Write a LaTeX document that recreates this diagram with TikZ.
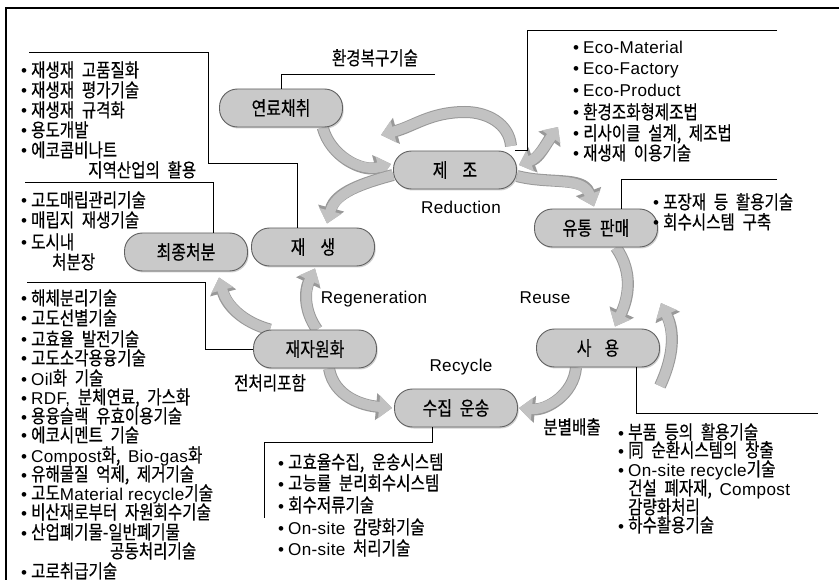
\documentclass[tikz,border=0pt]{standalone}
\usepackage{fontspec}
\setmainfont[WordSpace=2.2,FakeStretch=0.82,FakeBold=0.4]{Noto Sans CJK KR}
\newfontfamily\latf[Scale=0.9,LetterSpace=2]{Liberation Sans}
\usetikzlibrary{arrows.meta,shadows}
\newcommand\lt[1]{{\latf #1}}
\newcommand\bu{\makebox[14pt][c]{\latf •}}
\pgfdeclarelayer{bg}
\pgfsetlayers{bg,main}
\begin{document}
\begin{tikzpicture}[x=1pt,y=-1pt,
  pill/.style={rectangle, rounded corners=18pt, draw=gray!75!black, line width=0.9pt,
    fill=gray!42, minimum width=123pt, minimum height=38pt, inner sep=0pt,
    font=\fontsize{19.5}{21}\selectfont,
    drop shadow={shadow xshift=1.2pt,shadow yshift=-1.5pt,fill=gray!75}},
  item/.style={inner sep=0pt, anchor=west, font=\fontsize{19}{21}\selectfont,
    text height=15pt, text depth=1pt},
  lab/.style={inner sep=0pt, font=\fontsize{19}{21}\selectfont,
    text height=15pt, text depth=1pt},
  ln/.style={draw=black, line width=0.9pt},
  frame/.style={draw=black, line width=1.8pt},
  barrow/.style={draw=gray!48, line width=10pt, -{Triangle[width=22pt,length=13pt]},
    preaction={draw=gray!80, line width=12pt, -{Triangle[width=26pt,length=16pt]}}},
  barrowtwo/.style={draw=gray!48, line width=10pt, {Triangle[width=22pt,length=12pt]}-{Triangle[width=22pt,length=12pt]},
    preaction={draw=gray!80, line width=12pt, {Triangle[width=26pt,length=15pt]}-{Triangle[width=26pt,length=15pt]}}}
]
\useasboundingbox (0,0) rectangle (839,580);
% frame
\draw[frame] (6,580) -- (6,8) -- (839,8);

% pills
\node[pill] (yr) at (281,108) {연료채취};
\node[pill] (jj) at (455,170) {제\hspace{15pt}조};
\node[pill] (yt) at (596,228) {유통 판매};
\node[pill] (sy) at (598,348) {사\hspace{13pt}용};
\node[pill] (sj) at (456,408) {수집 운송};
\node[pill] (jw) at (315,349) {재자원화};
\node[pill] (jg) at (313,247) {재\hspace{15pt}생};
\node[pill] (cj) at (186,252) {최종처분};

% free labels
\node[lab] (env) at (375,58) {환경복구기술};
\node[lab] (pre) at (270,383) {전처리포함};
\node[lab] (sep) at (572,427) {분별배출};
\node[lab] (red) at (461,207) {\lt{Reduction}};
\node[lab] (reg) at (374,297) {\lt{Regeneration}};
\node[lab] (reu) at (545,297) {\lt{Reuse}};
\node[lab] (rec) at (461,365) {\lt{Recycle}};

% top-left list
\node[item] (tl1) at (17,70) {\bu 재생재 고품질화};
\node[item] (tl2) at (17,90) {\bu 재생재 평가기술};
\node[item] (tl3) at (17,110) {\bu 재생재 규격화};
\node[item] (tl4) at (17,130) {\bu 용도개발};
\node[item] (tl5) at (17,150) {\bu 에코콤비나트};
\node[item] (tl6) at (88,170) {지역산업의 활용};

% second left list
\node[item] (lb1) at (17,200) {\bu 고도매립관리기술};
\node[item] (lb2) at (17,220) {\bu 매립지 재생기술};
\node[item] (lb3) at (17,242) {\bu 도시내};
\node[item] (lb4) at (52,262) {처분장};

% third left list
\node[item] (lc1) at (17,298) {\bu 해체분리기술};
\node[item] (lc2) at (17,318) {\bu 고도선별기술};
\node[item] (lc3) at (17,339) {\bu 고효율 발전기술};
\node[item] (lc4) at (17,358) {\bu 고도소각용융기술};
\node[item] (lc5) at (17,378) {\bu \lt{Oil}화 기술};
\node[item] (lc6) at (17,397) {\bu \lt{RDF,} 분체연료, 가스화};
\node[item] (lc7) at (17,416) {\bu 용융슬랙 유효이용기술};
\node[item] (lc8) at (17,435) {\bu 에코시멘트 기술};
\node[item] (lc9) at (17,455) {\bu \lt{Compost}화, \lt{Bio-gas}화};
\node[item] (lc10) at (17,474) {\bu 유해물질 억제, 제거기술};
\node[item] (lc11) at (17,493) {\bu 고도\lt{Material recycle}기술};
\node[item] (lc12) at (17,512) {\bu 비산재로부터 자원회수기술};
\node[item] (lc13) at (17,532) {\bu 산업폐기물-일반폐기물};
\node[item] (lc14) at (110,551) {공동처리기술};
\node[item] (lc15) at (17,571) {\bu 고로취급기술};

% top-right list
\node[item] (tr1) at (569,47) {\bu \lt{Eco-Material}};
\node[item] (tr2) at (569,68) {\bu \lt{Eco-Factory}};
\node[item] (tr3) at (569,90) {\bu \lt{Eco-Product}};
\node[item] (tr4) at (569,112) {\bu 환경조화형제조법};
\node[item] (tr5) at (569,133) {\bu 리사이클 설계, 제조법};
\node[item] (tr6) at (569,153) {\bu 재생재 이용기술};

% right-middle list
\node[item] (rm1) at (649,202) {\bu 포장재 등 활용기술};
\node[item] (rm2) at (649,222) {\bu 회수시스템 구축};

% bottom-middle list
\node[item] (bm1) at (274,462) {\bu 고효율수집, 운송시스템};
\node[item] (bm2) at (274,483) {\bu 고능률 분리회수시스템};
\node[item] (bm3) at (274,505) {\bu 회수저류기술};
\node[item] (bm4) at (274,527) {\bu \lt{On-site} 감량화기술};
\node[item] (bm5) at (274,548) {\bu \lt{On-site} 처리기술};

% bottom-right list
\node[item] (br1) at (614,432) {\bu 부품 등의 활용기술};
\node[item] (br2) at (614,450) {\bu 同 순환시스템의 창출};
\node[item] (br3) at (614,469) {\bu \lt{On-site recycle}기술};
\node[item] (br4) at (628,488) {건설 폐자재, \lt{Compost}};
\node[item] (br5) at (628,507) {감량화처리};
\node[item] (br6) at (614,525) {\bu 하수활용기술};

% bracket lines
\coordinate (envc) at (435,74);
\draw[ln] (envc) -| (yr.north);
\coordinate (jjc) at (777,30);
\coordinate (jjk) at (527,30);
\draw[ln] (jjc) -- (jjk) |- ([xshift=-2pt]jj.north east);
\coordinate (tlc) at (29,52);
\coordinate (tlk) at (208,163);
\draw[ln] (tlc) -| (tlk) -| ([xshift=-16pt]jg.north);
\coordinate (lbc) at (25,182);
\draw[ln] (lbc) -| ([xshift=27pt]cj.north);
\coordinate (lcc) at (27,282);
\draw[ln] (lcc) -| ([xshift=-48pt]jw.west) -- (jw.west);
\coordinate (bmk) at (264,442);
\coordinate (bme) at (264,518);
\draw[ln] ([xshift=-24pt]sj.south) |- (bmk) -- (bme);
\coordinate (brc) at (818,413);
\draw[ln] ([xshift=38pt]sy.south) |- (brc);
\coordinate (rmc) at (777,179);
\draw[ln] (rmc) -| ([xshift=25pt]yt.north);

% block arrows
\coordinate (a2t) at (511,146);
\coordinate (a2p) at (465,112);
\coordinate (a2h) at (381,135);
\coordinate (a4h) at (558,127);
\coordinate (a7t) at (660,386);
\coordinate (a7h) at (661,303);
\begin{pgfonlayer}{bg}
\draw[barrow] (yr.-25) to[out=-75,in=195] ([yshift=6pt,xshift=-2pt]jj.west);
\draw[barrow] (a2t) to[out=95,in=0] (a2p) to[out=180,in=15] (a2h);
\draw[barrow] ([yshift=-5pt]jj.west) to[out=195,in=75] ([xshift=14pt,yshift=4pt]jg.north);
\draw[barrowtwo] ([yshift=5pt,xshift=2pt]jj.east) to[out=20,in=235] (a4h);
\draw[barrow] ([yshift=-6pt]jj.east) to[out=-15,in=110] ([xshift=-2pt,yshift=2pt]yt.north);
\draw[barrow] ([xshift=20pt]yt.south) to[out=-55,in=65] ([xshift=17pt,yshift=2pt]sy.north);
\draw[barrow] (a7t) to[out=65,in=-65] (a7h);
\draw[barrow] ([xshift=-22pt]sy.south) to[out=-95,in=-5] ([xshift=1pt]sj.east);
\draw[barrow] ([xshift=14pt]jw.south) to[out=-80,in=175] ([xshift=-2pt]sj.west);
\draw[barrow] ([xshift=-45pt]jw.north) to[out=165,in=-75] ([xshift=33pt,yshift=-6pt]cj.south);
\draw[barrow] ([xshift=2pt]jw.north) to[out=125,in=-115] ([xshift=2pt,yshift=-2pt]jg.south);
\end{pgfonlayer}
\end{tikzpicture}
\end{document}
